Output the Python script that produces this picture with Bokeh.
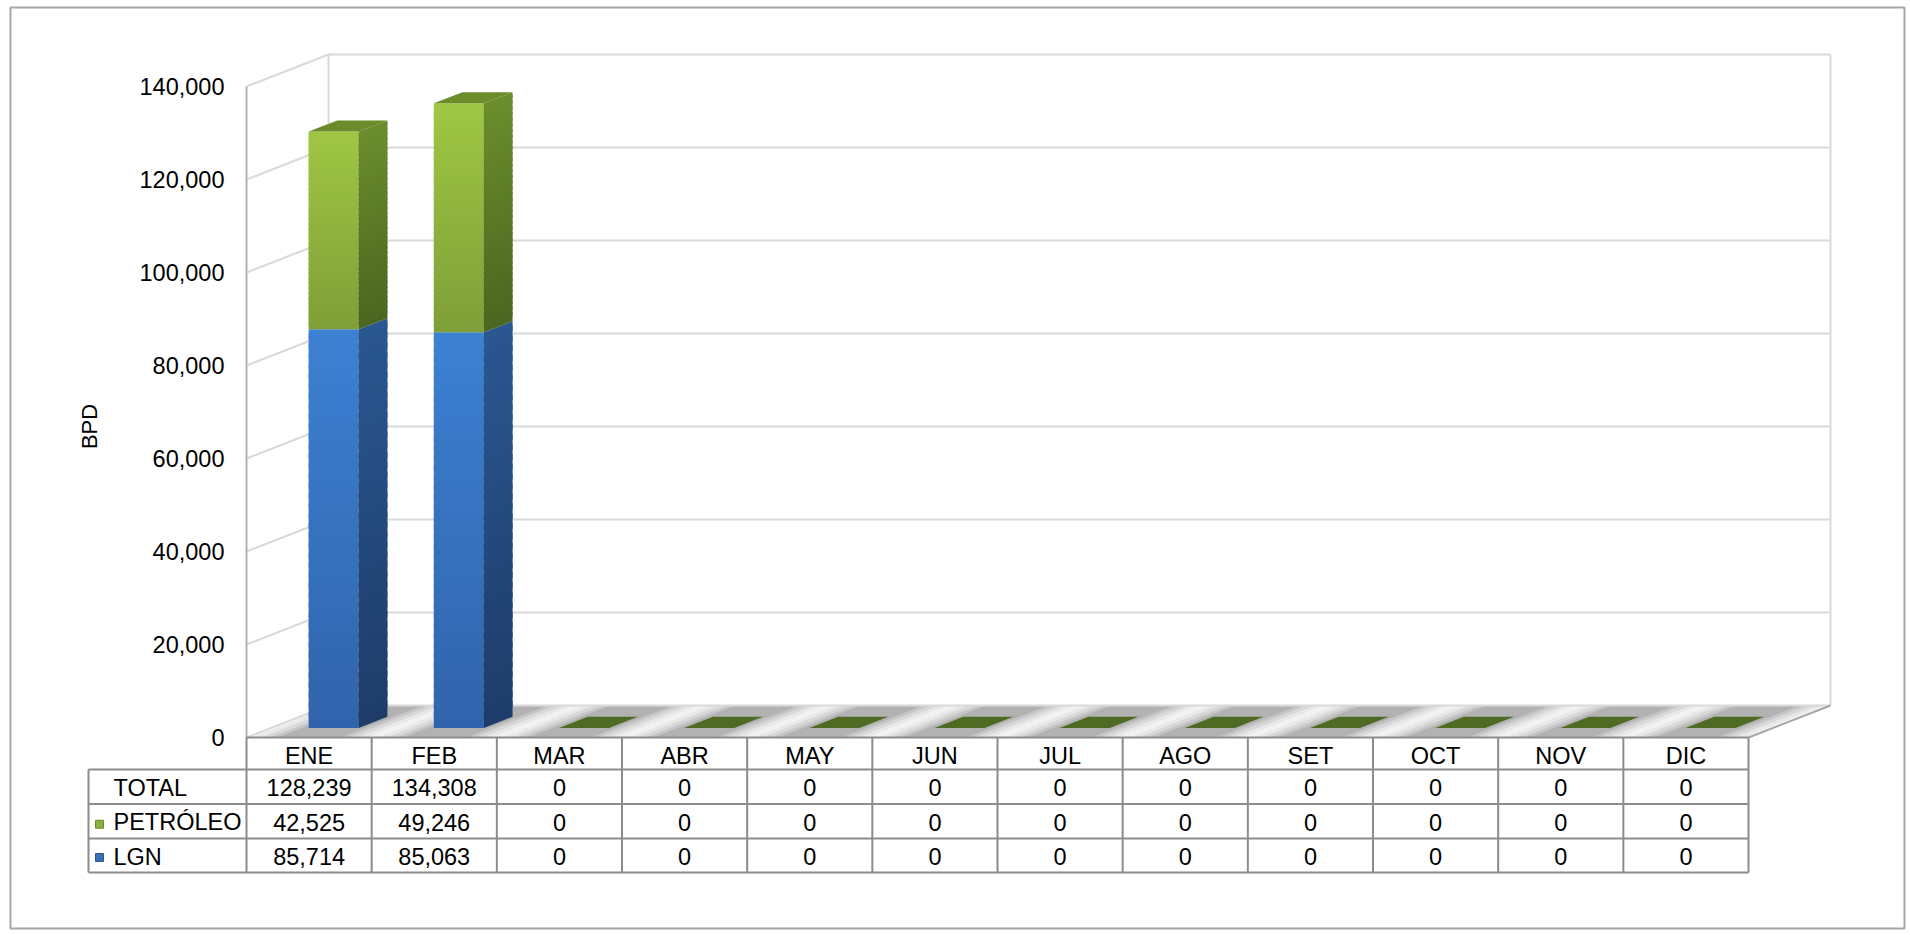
import math
from bokeh.plotting import figure
from bokeh.models import Range1d
from bokeh.core.properties import value
from bokeh.embed import file_html
from bokeh.resources import INLINE

# ---------------- data ----------------
months = ["ENE", "FEB", "MAR", "ABR", "MAY", "JUN", "JUL", "AGO", "SET", "OCT", "NOV", "DIC"]
lgn = [85714, 85063, 0, 0, 0, 0, 0, 0, 0, 0, 0, 0]
petroleo = [42525, 49246, 0, 0, 0, 0, 0, 0, 0, 0, 0, 0]
total = [128239, 134308, 0, 0, 0, 0, 0, 0, 0, 0, 0, 0]
y_ticks = [0, 20000, 40000, 60000, 80000, 100000, 120000, 140000]
row_labels = ["TOTAL", "PETRÓLEO", "LGN"]
y_label = "BPD"

# ---------------- layout (page pixels) ----------------
W, H = 1908, 933
PL, PT, PR, PB = 10, 7, 1904, 928   # frame (chart border) on page
FX0, FX12 = 246.0, 1748.0           # front x of category 0 and 12
FY0, FYTOP = 737.0, 86.0            # front y of 0 and of top tick
YMAX = y_ticks[-1]
U = (FX12 - FX0) / len(months)
K = (FY0 - FYTOP) / YMAX
DX = 82.0 / U                       # depth offset, category units
DY = 32.0 / K                       # depth offset, value units
BX, BW = 0.3, 0.4                   # bar position / width in a category
F0, F1 = 0.30, 0.65                 # bar depth span (fraction of depth)

FONT = value("Liberation Sans")
FS = "23.5px"

p = figure(width=W, height=H,
           x_range=Range1d((PL - FX0) / U, (PR - FX0) / U),
           y_range=Range1d((FY0 - PB) / K, (FY0 - PT) / K),
           output_backend="svg", toolbar_location=None,
           min_border_left=PL, min_border_top=PT,
           min_border_right=W - PR, min_border_bottom=H - PB,
           x_axis_location=None, y_axis_location=None)
p.extra_x_ranges = {"px": Range1d(PL, PR)}
p.extra_y_ranges = {"px": Range1d(PB, PT)}
p.grid.visible = False
p.background_fill_color = "white"
p.border_fill_color = "white"
p.outline_line_color = "#a6a6a6"
p.outline_line_width = 2


def hx(c):
    c = c.lstrip("#")
    return [int(c[i:i + 2], 16) for i in (0, 2, 4)]


def lerp(c1, c2, t):
    a, b = hx(c1), hx(c2)
    return "#%02x%02x%02x" % tuple(int(round(a[i] + (b[i] - a[i]) * t)) for i in range(3))


n_cat = len(months)

# ---------------- floor ----------------
p.patch([0, n_cat, n_cat + DX, DX], [0, 0, DY, DY], fill_color="#f2f2f2", line_color=None)
sh_xs, sh_ys, sh_c = [], [], []
for i in range(n_cat):
    for (a, b, c) in [(0.05, 0.95, "#e8e8e8"), (0.12, 0.88, "#d8d8d8"), (0.19, 0.81, "#c6c6c6"),
                      (0.25, 0.75, "#b2b2b2")]:
        sh_xs.append([i + a, i + b, i + b + DX, i + a + DX])
        sh_ys.append([0, 0, DY, DY])
        sh_c.append(c)
p.patches(sh_xs, sh_ys, fill_color=sh_c, line_color=None)

# ---------------- walls / gridlines ----------------
grid_xs, grid_ys = [], []
for v in y_ticks:
    grid_xs.append([0, DX, n_cat + DX])
    grid_ys.append([v, v + DY, v + DY])
grid_xs.append([DX, DX]); grid_ys.append([DY, YMAX + DY])
grid_xs.append([n_cat + DX, n_cat + DX]); grid_ys.append([DY, YMAX + DY])
p.multi_line(grid_xs, grid_ys, line_color="#d9d9d9", line_width=2)

# front value axis and floor edges
p.line([0, 0], [0, YMAX], line_color="#b3b3b3", line_width=2)
p.line([n_cat, n_cat + DX], [0, DY], line_color="#a6a6a6", line_width=2)

# ---------------- bars ----------------
f_xs, f_ys, f_c = [], [], []


def add_face(poly_fn, c_top, c_bot, n):
    for k in range(n):
        t0, t1 = k / n, min(1.0, (k + 1.6) / n)
        xs, ys = poly_fn(t0, t1)
        f_xs.append(xs)
        f_ys.append(ys)
        f_c.append(lerp(c_bot, c_top, (k + 0.5) / n))


ddx = (F1 - F0) * DX
for i in range(n_cat):
    xl = i + BX + F0 * DX
    xr = xl + BW
    segs = [(0, lgn[i], ("#3d80d2", "#3164ac"), ("#2a5791", "#1e3c68")),
            (lgn[i], lgn[i] + petroleo[i], ("#9fc643", "#7f9f38"), ("#6b8d2d", "#4b6620"))]
    for (y0, y1, fc, sc) in segs:
        if y1 <= y0:
            continue
        yb, yt = y0 + F0 * DY, y1 + F0 * DY
        n = 40
        # front face
        add_face(lambda t0, t1, yb=yb, yt=yt, xl=xl, xr=xr:
                 ([xl, xr, xr, xl],
                  [yb + (yt - yb) * t0, yb + (yt - yb) * t0, yb + (yt - yb) * t1, yb + (yt - yb) * t1]),
                 fc[0], fc[1], n)
        # side face
        add_face(lambda t0, t1, y0=y0, y1=y1, xr=xr:
                 ([xr, xr + ddx, xr + ddx, xr],
                  [y0 + (y1 - y0) * t0 + F0 * DY, y0 + (y1 - y0) * t0 + F1 * DY,
                   y0 + (y1 - y0) * t1 + F1 * DY, y0 + (y1 - y0) * t1 + F0 * DY]),
                 sc[0], sc[1], n)
    # top face (also the footprint of empty months)
    top = lgn[i] + petroleo[i]
    f_xs.append([xl, xr, xr + ddx, xl + ddx])
    f_ys.append([top + F0 * DY, top + F0 * DY, top + F1 * DY, top + F1 * DY])
    f_c.append("#6a8c2b" if top > 0 else "#4f6a22")

p.patches(f_xs, f_ys, fill_color=f_c, line_color=None)

# ---------------- value axis labels ----------------
p.text(x=[224] * len(y_ticks), y=y_ticks, text=[f"{v:,}" for v in y_ticks],
       x_range_name="px", text_align="right", text_baseline="middle",
       text_font=FONT, text_font_size=FS, text_color="black")
p.text(x=[89], y=[426], text=[y_label], x_range_name="px", y_range_name="px",
       angle=math.pi / 2, text_align="center", text_baseline="middle",
       text_font=FONT, text_font_size="22px", text_color="black")

# ---------------- data table ----------------
T_HEAD = FY0
T_ROWS = [769.0, 803.5, 838.0, 872.0]
T_LEFT = (88.0 - FX0) / U
LC = "#8c8c8c"
t_xs, t_ys = [], []
t_xs.append([0, n_cat]); t_ys.append([T_HEAD, T_HEAD])
for yy in T_ROWS:
    t_xs.append([T_LEFT, n_cat]); t_ys.append([yy, yy])
for i in range(n_cat + 1):
    t_xs.append([i, i]); t_ys.append([T_HEAD, T_ROWS[-1]])
t_xs.append([T_LEFT, T_LEFT]); t_ys.append([T_ROWS[0], T_ROWS[-1]])
p.multi_line(t_xs, t_ys, y_range_name="px", line_color=LC, line_width=2)

p.text(x=[i + 0.5 for i in range(n_cat)], y=[(T_HEAD + T_ROWS[0]) / 2 + 2] * n_cat, text=months,
       y_range_name="px", text_align="center", text_baseline="middle",
       text_font=FONT, text_font_size=FS, text_color="black")

for r, series in enumerate([total, petroleo, lgn]):
    yc = (T_ROWS[r] + T_ROWS[r + 1]) / 2 + 1
    p.text(x=[i + 0.5 for i in range(n_cat)], y=[yc] * n_cat, text=[f"{v:,}" for v in series],
           y_range_name="px", text_align="center", text_baseline="middle",
           text_font=FONT, text_font_size=FS, text_color="black")

row_y = [(T_ROWS[r] + T_ROWS[r + 1]) / 2 + 1 for r in range(3)]
p.text(x=[113] * 3, y=row_y, text=row_labels, x_range_name="px", y_range_name="px",
       text_align="left", text_baseline="middle",
       text_font=FONT, text_font_size=FS, text_color="black")
# legend keys
p.rect(x=[99, 99], y=[row_y[1] + 2, row_y[2] + 1], width=8, height=8,
       x_range_name="px", y_range_name="px",
       fill_color=["#8db23c", "#3a70b8"], line_color=["#6b8d2d", "#2a5791"], line_width=1)

open("out.html", "w").write(file_html(p, INLINE))
